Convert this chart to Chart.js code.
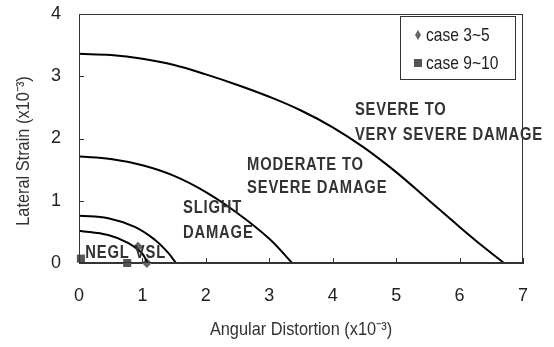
<!DOCTYPE html>
<html>
<head>
<meta charset="utf-8">
<script src="https://cdn.jsdelivr.net/npm/chart.js@4/dist/chart.umd.min.js"></script>
<style>
  html, body { margin: 0; padding: 0; background: #fff; }
  #wrap { width: 554px; height: 347px; }
</style>
</head>
<body>
<div id="wrap"><canvas id="chart" width="554" height="347"></canvas></div>
<script>
// Damage boundary curves (angular distortion x10^-3, lateral strain x10^-3)
const neglX = [0, 0.46, 0.78, 0.99, 1.08];
const neglY = [0.52, 0.45, 0.32, 0.16, 0];
const slightX = [0, 0.46, 0.88, 1.2, 1.4, 1.53];
const slightY = [0.76, 0.72, 0.58, 0.37, 0.17, 0];
const moderateX = [0, 0.5, 1.0, 1.5, 2.0, 2.5, 3.0, 3.36];
const moderateY = [1.71, 1.67, 1.57, 1.40, 1.14, 0.80, 0.39, 0];
const severeX = [0, 0.5, 1.0, 1.5, 2.0, 2.5, 3.0, 3.5, 4.0, 4.5, 5.0, 5.5, 6.0, 6.4, 6.7];
const severeY = [3.36, 3.34, 3.28, 3.18, 3.03, 2.86, 2.67, 2.45, 2.18, 1.85, 1.46, 1.02, 0.58, 0.24, 0];

// Measured cases
const case35X = [0.93, 1.07];
const case35Y = [0.26, 0.0];
const case910X = [0.03, 0.76];
const case910Y = [0.07, 0.0];

// Axes
const xTicks = [0, 1, 2, 3, 4, 5, 6, 7];
const yTicks = [0, 1, 2, 3, 4];

// Zone labels [text, x, y]
const zoneLabels = [
    ['SEVERE TO', 4.35, 2.45],
    ['VERY SEVERE DAMAGE', 4.35, 2.06],
    ['MODERATE TO', 2.65, 1.57],
    ['SEVERE DAMAGE', 2.65, 1.2],
    ['SLIGHT', 1.64, 0.88],
    ['DAMAGE', 1.64, 0.48],
    ['NEGL', 0.1, 0.16],
    ['VSL', 0.88, 0.16]
];

const FONT = "'Liberation Sans', Arial, sans-serif";

const toPts = (xs, ys) => xs.map((x, i) => ({ x: x, y: ys[i] }));

const curve = (xs, ys) => ({
    type: 'line',
    data: toPts(xs, ys),
    borderColor: '#000',
    borderWidth: 2,
    pointRadius: 0,
    fill: false,
    tension: 0.4
});

// narrow-looking text: squash horizontally
function squashText(ctx, text, x, y, sx) {
    ctx.save();
    ctx.translate(x, y);
    ctx.scale(sx, 1);
    ctx.fillText(text, 0, 0);
    ctx.restore();
}

// Frame, inward ticks, zone labels, legend and axis titles
const decorations = {
    id: 'decorations',
    afterDraw(chart) {
        const ctx = chart.ctx;
        const area = chart.chartArea;
        const xs = chart.scales.x;
        const ys = chart.scales.y;
        ctx.save();

        ctx.strokeStyle = '#333';
        ctx.lineWidth = 1;
        ctx.strokeRect(area.left + 0.5, area.top + 0.5, area.right - area.left - 1, area.bottom - area.top - 1);

        ctx.beginPath();
        yTicks.forEach(v => {
            const py = Math.round(ys.getPixelForValue(v)) + 0.5;
            ctx.moveTo(area.left, py);
            ctx.lineTo(area.left + 5, py);
        });
        xTicks.forEach(v => {
            const px = Math.round(xs.getPixelForValue(v)) + 0.5;
            ctx.moveTo(px, area.bottom);
            ctx.lineTo(px, area.bottom - 5);
        });
        ctx.stroke();

        // zone labels
        ctx.fillStyle = '#333';
        ctx.font = 'bold 18px ' + FONT;
        ctx.letterSpacing = '1px';
        ctx.textAlign = 'left';
        ctx.textBaseline = 'middle';
        zoneLabels.forEach(([t, x, y]) => {
            squashText(ctx, t, xs.getPixelForValue(x), ys.getPixelForValue(y), 0.82);
        });
        ctx.letterSpacing = '0px';

        // legend box
        const bx = area.right - 123, by = area.top + 2, bw = 115, bh = 63;
        ctx.fillStyle = '#fff';
        ctx.fillRect(bx, by, bw, bh);
        ctx.strokeStyle = '#333';
        ctx.strokeRect(bx + 0.5, by + 0.5, bw, bh);
        const items = chart.data.datasets.filter(d => d.legendStyle);
        ctx.font = '19px ' + FONT;
        items.forEach((d, i) => {
            const cy = by + 19 + i * 28;
            const mx = bx + 18;
            ctx.fillStyle = d.backgroundColor;
            if (d.legendStyle === 'diamond') {
                ctx.beginPath();
                ctx.moveTo(mx, cy - 5);
                ctx.lineTo(mx + 3, cy);
                ctx.lineTo(mx, cy + 5);
                ctx.lineTo(mx - 3, cy);
                ctx.closePath();
                ctx.fill();
            } else {
                ctx.fillRect(mx - 4, cy - 4, 8, 8);
            }
            ctx.fillStyle = '#222';
            squashText(ctx, d.label, mx + 8, cy + 1, 0.82);
        });

        // axis titles
        ctx.fillStyle = '#333';
        ctx.textAlign = 'center';
        squashText(ctx, 'Angular Distortion (x10\u207B\u00B3)', (area.left + area.right) / 2, 330, 0.86);
        ctx.translate(24, 151);
        ctx.rotate(-Math.PI / 2);
        squashText(ctx, 'Lateral Strain (x10\u207B\u00B3)', 0, 0, 0.86);
        ctx.restore();
    }
};

new Chart(document.getElementById('chart'), {
    type: 'scatter',
    data: {
        datasets: [
            curve(neglX, neglY),
            curve(slightX, slightY),
            curve(moderateX, moderateY),
            curve(severeX, severeY),
            {
                label: 'case 3~5',
                data: toPts(case35X, case35Y),
                pointStyle: 'rectRot',
                pointRadius: 5,
                backgroundColor: '#666',
                borderColor: '#666',
                borderWidth: 0,
                clip: false,
                legendStyle: 'diamond'
            },
            {
                label: 'case 9~10',
                data: toPts(case910X, case910Y),
                pointStyle: 'rect',
                pointRadius: 5.7,
                backgroundColor: '#555',
                borderColor: '#555',
                borderWidth: 0,
                clip: false,
                legendStyle: 'square'
            }
        ]
    },
    options: {
        responsive: false,
        animation: false,
        layout: { autoPadding: false, padding: { left: 0, right: 31, top: 14, bottom: 0 } },
        plugins: {
            legend: { display: false },
            tooltip: { enabled: false }
        },
        scales: {
            x: {
                type: 'linear',
                min: 0,
                max: 7,
                afterFit: s => { s.height = 84; s.paddingLeft = 0; s.paddingRight = 0; },
                afterBuildTicks: s => { s.ticks = xTicks.map(v => ({ value: v })); },
                grid: { display: false, drawTicks: false },
                border: { display: true, color: '#333' },
                ticks: { padding: 22, color: '#222', font: { family: FONT, size: 18 } }
            },
            y: {
                type: 'linear',
                min: 0,
                max: 4,
                afterFit: s => { s.width = 79; s.paddingTop = 0; s.paddingBottom = 0; },
                afterBuildTicks: s => { s.ticks = yTicks.map(v => ({ value: v })); },
                grid: { display: false, drawTicks: false },
                border: { display: true, color: '#333' },
                ticks: { padding: 18, color: '#222', font: { family: FONT, size: 18 } }
            }
        }
    },
    plugins: [decorations]
});
</script>
</body>
</html>
